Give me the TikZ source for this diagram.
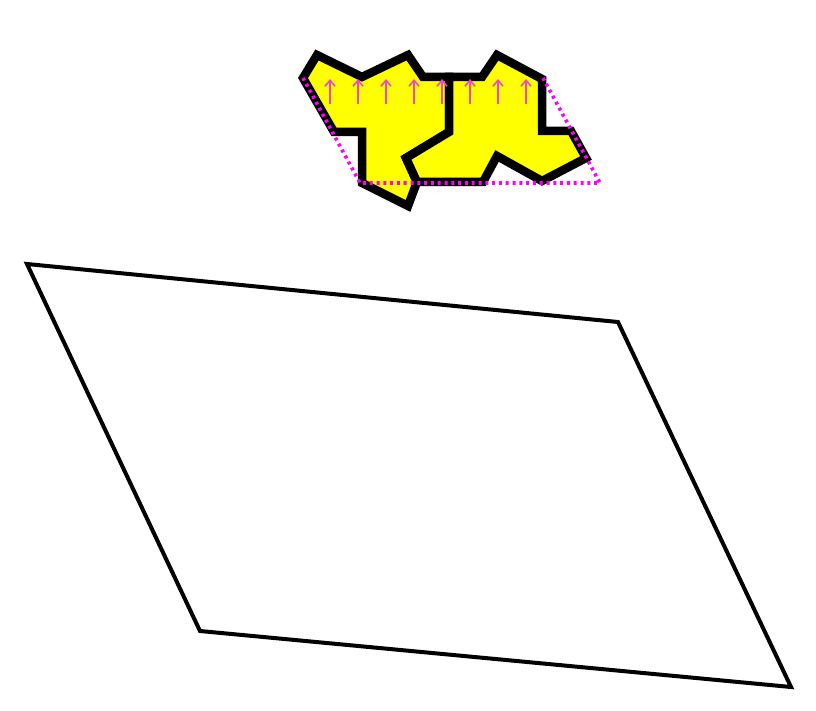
\documentclass[tikz,border=0pt]{standalone}
\usepackage{tikz}
\usepackage{xcolor}
\usetikzlibrary{calc,arrows.meta}
\definecolor{tileYellow}{RGB}{255,255,0}
\definecolor{guideMagenta}{RGB}{255,0,255}
\definecolor{arrowPink}{RGB}{240,70,200}

\begin{document}
\begin{tikzpicture}[x=1pt,y=-1pt]
\useasboundingbox (0,0) rectangle (816,711);
% the two tiles
\draw[fill=tileYellow,line width=8.5pt,line join=miter]
  (317,55) -- (362,77) -- (408,55) -- (423,77) -- (449,77) -- (449,132) -- (406,158) -- (417,182)
  -- (408,206) -- (362,183) -- (362,132) -- (334,132) -- (303,78) -- cycle;
\draw[fill=tileYellow,line width=8.5pt,line join=miter]
  (449,77) -- (482,77) -- (497,55) -- (542,79) -- (542,131) -- (571,131) -- (586,158) -- (542,181)
  -- (497,156) -- (483,182) -- (417,182) -- (406,158) -- (449,132) -- cycle;
% guide
\coordinate (gTL) at (303,78);
\coordinate (gTR) at (543,78);
\coordinate (gBL) at (360,183);
\coordinate (gBR) at (600,183);
\draw[guideMagenta,line width=3.6pt,dash pattern=on 3pt off 3.8pt] (gTL) -- (gBL) -- (gBR) -- (gTR);
\foreach \x in {330,358,...,526}
  \draw[arrowPink,line width=1.6pt,-{Straight Barb[length=6pt,width=10pt]}] (\x,104) -- (\x,79);
% big parallelogram
\draw[line width=4pt,line join=miter] (27,264) -- (618,322) -- (791,687) -- (200,631) -- cycle;
\end{tikzpicture}
\end{document}
